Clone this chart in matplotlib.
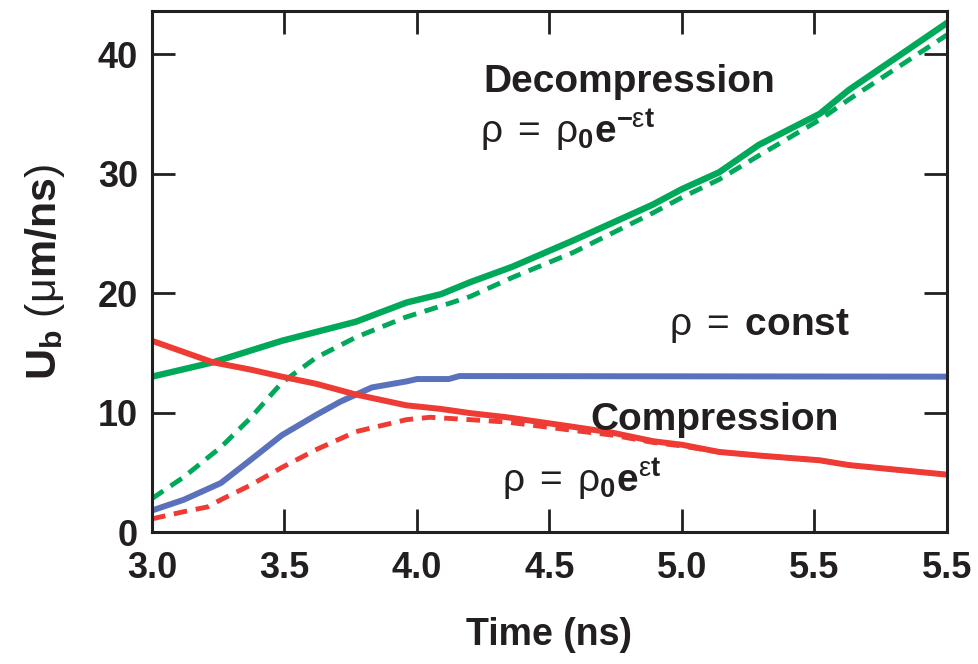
import matplotlib
matplotlib.use('Agg')
import matplotlib.pyplot as plt

plt.rcParams['font.family'] = ['Liberation Sans', 'DejaVu Sans']
plt.rcParams['font.weight'] = 'bold'
plt.rcParams['mathtext.fontset'] = 'custom'
plt.rcParams['mathtext.rm'] = 'Liberation Sans:normal'
plt.rcParams['mathtext.it'] = 'Liberation Sans:normal'
plt.rcParams['mathtext.bf'] = 'Liberation Sans:bold'

# decompression (green), solid and dashed
green_solid_t = [3.0, 3.23, 3.49, 3.77, 3.96, 4.09, 4.20, 4.36, 4.59, 4.89, 5.0, 5.14, 5.29, 5.52, 5.63, 6.0]
green_solid = [13.0, 14.2, 16.0, 17.6, 19.2, 19.9, 20.9, 22.2, 24.4, 27.4, 28.7, 30.1, 32.4, 35.0, 37.0, 42.6]

green_dash_t = [3.0, 3.12, 3.26, 3.37, 3.49, 3.62, 3.77, 3.96, 4.09, 4.20, 4.36, 4.59, 4.89, 5.0, 5.14, 5.29, 5.52, 5.63, 6.0]
green_dash = [2.8, 4.6, 7.1, 9.5, 12.5, 14.6, 16.3, 18.0, 18.9, 19.7, 21.3, 23.4, 26.7, 28.0, 29.5, 31.5, 34.5, 36.2, 41.6]

# constant density (blue)
blue_t = [3.0, 3.12, 3.26, 3.37, 3.49, 3.62, 3.71, 3.83, 3.96, 4.0, 4.12, 4.16, 6.0]
blue = [1.8, 2.7, 4.1, 6.0, 8.1, 9.8, 10.9, 12.1, 12.6, 12.8, 12.8, 13.05, 13.0]

# compression (red), solid and dashed
red_solid_t = [3.0, 3.23, 3.37, 3.49, 3.62, 3.77, 3.96, 4.09, 4.20, 4.34, 4.59, 4.74, 4.89, 5.0, 5.14, 5.29, 5.52, 5.63, 6.0]
red_solid = [16.0, 14.2, 13.6, 13.0, 12.4, 11.5, 10.6, 10.3, 9.95, 9.6, 8.8, 8.3, 7.6, 7.3, 6.7, 6.4, 6.0, 5.6, 4.8]

red_dash_t = [3.0, 3.12, 3.21, 3.26, 3.37, 3.49, 3.62, 3.77, 3.96, 4.05, 4.20, 4.34, 4.59, 4.74, 4.89, 5.0, 5.14, 5.29, 5.52, 5.63, 6.0]
red_dash = [1.1, 1.7, 2.1, 2.7, 3.9, 5.4, 6.9, 8.4, 9.4, 9.6, 9.4, 9.2, 8.5, 8.1, 7.5, 7.2, 6.7, 6.4, 6.0, 5.6, 4.8]

x_ticks = [3.0, 3.5, 4.0, 4.5, 5.0, 5.5, 6.0]
x_labels = ['3.0', '3.5', '4.0', '4.5', '5.0', '5.5', '5.5']
y_ticks = [0, 10, 20, 30, 40]

GREEN = '#00a85a'
BLUE = '#5a72bb'
RED = '#ee3b33'
INK = '#231f20'

fig = plt.figure(figsize=(9.79, 6.64), dpi=100)
ax = fig.add_axes([152 / 979, 1 - 532 / 664, 795 / 979, 521 / 664])

ax.plot(green_dash_t, green_dash, color=GREEN, lw=3.5, dashes=(2.8, 1.8))
ax.plot(red_dash_t, red_dash, color=RED, lw=3.5, dashes=(2.8, 1.8))
ax.plot(green_solid_t, green_solid, color=GREEN, lw=4.6)
ax.plot(blue_t, blue, color=BLUE, lw=4.3)
ax.plot(red_solid_t, red_solid, color=RED, lw=4.3)

ax.set_xlim(3.0, 6.0)
ax.set_ylim(0, 43.6)
ax.set_xticks(x_ticks)
ax.set_xticklabels(x_labels)
ax.set_yticks(y_ticks)
ax.tick_params(direction='in', length=16.5, width=2, colors=INK, labelsize=26,
               top=True, right=True)
ax.tick_params(axis='x', pad=14)
ax.tick_params(axis='y', pad=10)
for s in ax.spines.values():
    s.set_linewidth(2.2)
    s.set_color(INK)

ax.set_xlabel('Time (ns)', fontsize=27, fontweight='bold', color=INK, labelpad=22)
ax.set_ylabel(r'$\mathbf{U}_{\mathbf{b}}\ (\mu\mathbf{m/ns})$', fontsize=31, color=INK, labelpad=22)

ax.text(4.25, 36.8, 'Decompression', fontsize=28, fontweight='bold', color=INK)
ax.text(4.238, 32.6, r'$\rho\;=\;\rho_{\mathbf{0}}\mathbf{e}^{\mathbf{-}ε\mathbf{t}}$', fontsize=28, color=INK)
ax.text(4.951, 16.5, r'$\rho\;=\;\mathbf{const}$', fontsize=28, color=INK)
ax.text(4.653, 8.54, 'Compression', fontsize=28, fontweight='bold', color=INK)
ax.text(4.32, 3.35, r'$\rho\;=\;\rho_{\mathbf{0}}\mathbf{e}^{ε\mathbf{t}}$', fontsize=28, color=INK)

fig.savefig('out.png', dpi=100)
